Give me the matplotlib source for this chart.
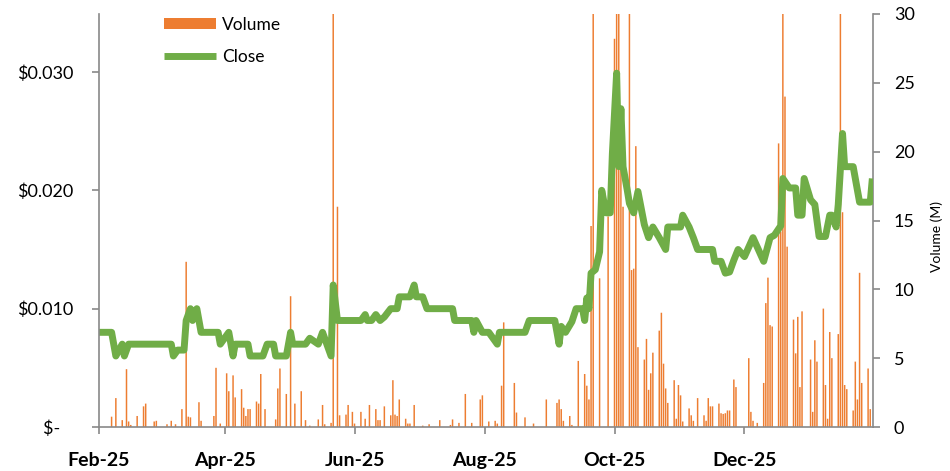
import matplotlib
matplotlib.use("Agg")
import matplotlib.pyplot as plt
import matplotlib.dates as mdates
import pandas as pd
import numpy as np

# ---------------- data ----------------
start_date = "2025-02-01"

# Close price (USD) at turning points, as day offsets from start_date
close_days = [0, 6, 8, 11, 12, 14, 34, 35, 37, 40, 41, 43, 44, 46, 48, 56, 57, 61, 62, 63, 64,
              70, 71, 77, 79, 82, 83, 88, 90, 91, 97, 99, 103, 105, 109, 110, 112, 123, 125,
              126, 128, 130, 132, 134, 137, 140, 141, 146, 148, 149, 152, 154, 166, 167, 175,
              176, 177, 180, 183, 187, 188, 200, 202, 214, 216, 217, 219, 222, 224, 227, 228,
              229, 230, 231, 233, 235, 236, 238, 240, 241, 243, 244, 245, 246, 248, 249, 251,
              253, 256, 258, 260, 263, 266, 267, 273, 274, 277, 279, 281, 288, 289, 292, 294,
              296, 298, 300, 303, 307, 312, 315, 317, 320, 321, 324, 327, 328, 330, 331, 334,
              336, 338, 341, 343, 344, 346, 347, 349, 350, 354, 357, 362, 363]
close_vals = [0.0080, 0.0080, 0.0060, 0.0070, 0.0060, 0.0070, 0.0070, 0.0060, 0.0065, 0.0065,
              0.0090, 0.0100, 0.0090, 0.0100, 0.0080, 0.0080, 0.0070, 0.0080, 0.0070, 0.0060,
              0.0070, 0.0070, 0.0060, 0.0060, 0.0070, 0.0070, 0.0060, 0.0060, 0.0080, 0.0070,
              0.0070, 0.0075, 0.0070, 0.0080, 0.0060, 0.0120, 0.0090, 0.0090, 0.0095, 0.0090,
              0.0090, 0.0095, 0.0090, 0.0093, 0.0100, 0.0100, 0.0110, 0.0110, 0.0120, 0.0110,
              0.0110, 0.0100, 0.0100, 0.0090, 0.0090, 0.0080, 0.0090, 0.0080, 0.0080, 0.0070,
              0.0080, 0.0080, 0.0090, 0.0090, 0.0070, 0.0085, 0.0080, 0.0089, 0.0100, 0.0100,
              0.0090, 0.0109, 0.0100, 0.0130, 0.0133, 0.0148, 0.0200, 0.0181, 0.0181, 0.0231,
              0.0299, 0.0220, 0.0269, 0.0220, 0.0200, 0.0189, 0.0181, 0.0199, 0.0171, 0.0160,
              0.0169, 0.0160, 0.0150, 0.0169, 0.0169, 0.0179, 0.0169, 0.0160, 0.0150, 0.0150,
              0.0140, 0.0140, 0.0130, 0.0131, 0.0141, 0.0150, 0.0144, 0.0160, 0.0140, 0.0160,
              0.0162, 0.0170, 0.0210, 0.0202, 0.0202, 0.0179, 0.0179, 0.0210, 0.0192, 0.0188,
              0.0161, 0.0161, 0.0179, 0.0179, 0.0169, 0.0188, 0.0248, 0.0220, 0.0220, 0.0190,
              0.0190, 0.0210]

# Daily volume (millions of shares), as day offsets from start_date
vol_days = [6, 8, 11, 13, 14, 15, 18, 21, 22, 26, 27, 32, 34, 36, 39, 41, 42, 43, 47, 48,
            54, 55, 57, 60, 61, 63, 64, 67, 68, 69, 70, 71, 74, 75, 76, 78, 83, 84, 85, 88,
            90, 92, 95, 97, 99, 103, 105, 106, 109, 110, 112, 113, 116, 117, 119, 120, 123,
            125, 127, 130, 131, 132, 134, 137, 138, 139, 140, 141, 144, 145, 146, 148, 152,
            155, 160, 165, 166, 169, 172, 175, 179, 180, 183, 186, 187, 189, 190, 195, 196,
            200, 204, 210, 215, 216, 217, 218, 221, 222, 225, 228, 229, 230, 231, 232, 235,
            239, 242, 243, 244, 245, 246, 249, 250, 251, 252, 253, 256, 257, 258, 259, 260,
            263, 264, 265, 266, 267, 270, 271, 272, 273, 274, 277, 278, 279, 281, 284, 285,
            286, 287, 288, 291, 292, 293, 294, 295, 296, 298, 299, 305, 306, 307, 309, 312,
            313, 314, 315, 316, 319, 320, 321, 322, 323, 326, 327, 328, 329, 330, 334, 335,
            336, 337, 340, 341, 342, 343, 344, 347, 348, 349, 350, 351, 354, 355, 356, 357,
            358, 361, 362]
vol_vals = [0.75, 2.1, 0.5, 4.2, 0.4, 0.15, 0.8, 1.5, 1.7, 0.4, 0.45, 0.2, 0.45, 0.2, 1.3,
            12.0, 0.75, 0.7, 1.8, 0.45, 0.8, 4.3, 0.25, 3.9, 2.6, 3.75, 2.15, 2.75, 1.4, 0.8,
            1.3, 1.3, 1.85, 1.7, 3.85, 1.3, 0.55, 2.8, 4.25, 2.4, 9.5, 1.7, 2.6, 0.5, 0.1,
            0.55, 1.6, 0.2, 0.3, 36.0, 16.0, 0.85, 0.9, 1.6, 1.1, 0.25, 1.1, 0.6, 1.6, 1.3,
            0.5, 0.5, 1.5, 0.85, 3.4, 0.9, 0.8, 2.0, 0.6, 0.25, 0.25, 1.6, 0.1, 0.2, 0.5,
            0.15, 0.55, 0.3, 2.4, 0.3, 2.0, 2.3, 0.4, 0.45, 0.25, 3.0, 7.6, 3.2, 1.05, 0.7,
            0.25, 2.0, 1.75, 2.0, 1.3, 0.45, 0.8, 0.15, 4.8, 3.85, 3.0, 2.0, 14.6, 34.0,
            10.8, 15.3, 28.2, 40.0, 33.0, 19.4, 16.0, 31.0, 11.4, 11.5, 20.4, 5.8, 4.9, 6.4,
            2.7, 3.9, 5.4, 7.0, 8.3, 4.6, 2.8, 1.75, 3.4, 0.6, 3.05, 2.3, 0.4, 1.35, 0.85,
            0.45, 2.1, 0.85, 0.45, 2.1, 1.5, 1.5, 1.7, 1.0, 0.95, 1.0, 1.2, 1.2, 3.45, 2.9,
            5.0, 1.1, 0.45, 0.3, 3.2, 9.0, 10.85, 7.4, 7.3, 20.6, 14.2, 38.0, 24.0, 13.1,
            7.8, 5.35, 8.0, 2.9, 8.4, 4.9, 1.1, 6.3, 4.75, 8.6, 3.05, 0.6, 6.9, 5.0, 6.75,
            36.0, 15.6, 3.05, 2.75, 1.2, 4.75, 2.0, 11.2, 3.2, 4.25, 1.3]

price_ticks = [0.0, 0.010, 0.020, 0.030]
price_labels = ["$-   ", "$0.010", "$0.020", "$0.030"]
vol_ticks = [0, 5, 10, 15, 20, 25, 30]

# ---------------- plot ----------------
FONT = "Lato"
plt.rcParams["font.family"] = [FONT, "DejaVu Sans"]

GREEN = "#70AD47"
ORANGE = "#ED7D31"
GRAY = "#898989"

t0 = pd.Timestamp(start_date)
close_dates = t0 + pd.to_timedelta(close_days, unit="D")
vol_dates = t0 + pd.to_timedelta(vol_days, unit="D")

fig = plt.figure(figsize=(9.5, 4.71), dpi=100)
ax = fig.add_axes([98.8 / 950, 44 / 471, 774.2 / 950, 413 / 471])
ax2 = ax.twinx()

bars = ax2.bar(vol_dates, vol_vals, width=0.7, color=ORANGE, edgecolor="none",
               linewidth=0, label="Volume")
for b in bars:
    b.set_snap(False)
ax.plot(close_dates, close_vals, color=GREEN, lw=5, solid_joinstyle="round",
        solid_capstyle="butt", label="Close")

ax.set_zorder(ax2.get_zorder() + 1)
ax.patch.set_visible(False)

ax.set_xlim(t0, t0 + pd.Timedelta(days=363.3))
ax.set_ylim(0, 0.0349)
ax2.set_ylim(0, 30)

ax.set_yticks(price_ticks)
ax.set_yticklabels(price_labels)
ax2.set_yticks(vol_ticks)

ax.xaxis.set_major_locator(mdates.MonthLocator(bymonth=[2, 4, 6, 8, 10, 12]))
ax.xaxis.set_major_formatter(mdates.DateFormatter("%b-%y"))

for a in (ax, ax2):
    a.spines["top"].set_visible(False)
    for s in ("left", "right", "bottom"):
        a.spines[s].set_color(GRAY)
        a.spines[s].set_linewidth(1.2)
ax.spines["right"].set_visible(False)
ax2.spines["left"].set_visible(False)
ax2.spines["bottom"].set_visible(False)

ax.tick_params(axis="y", direction="out", length=5, width=1.2, color=GRAY,
               labelsize=13, pad=13, labelcolor="black")
ax.tick_params(axis="x", direction="out", length=5, width=1.2, color=GRAY,
               labelsize=14, pad=13, labelcolor="black")
for lbl in ax.get_xticklabels():
    lbl.set_fontweight("bold")
ax2.tick_params(axis="y", direction="out", length=5, width=1.2, color=GRAY,
                labelsize=13, pad=10, labelcolor="black")

ax2.set_ylabel("Volume (M)", fontsize=10)
ax2.yaxis.set_label_coords(1.074, 0.461)

h1, l1 = ax2.get_legend_handles_labels()
h2, l2 = ax.get_legend_handles_labels()
ax.legend(h1 + h2, l1 + l2, loc="upper left", bbox_to_anchor=(0.084, 0.993),
          frameon=False, fontsize=12.5, handlelength=3.0, handleheight=0.6,
          handletextpad=0.35, labelspacing=0.9, borderpad=0, borderaxespad=0)

fig.savefig("out.png", dpi=100)
